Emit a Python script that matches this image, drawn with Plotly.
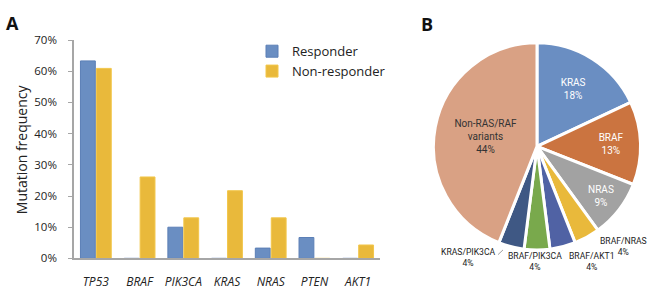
import plotly.graph_objects as go

genes = ["TP53", "BRAF", "PIK3CA", "KRAS", "NRAS", "PTEN", "AKT1"]
responder = [0.633, 0.0, 0.100, 0.0, 0.033, 0.067, 0.0]
non_responder = [0.609, 0.261, 0.130, 0.217, 0.130, 0.0, 0.043]
y_ticks = [0, 0.1, 0.2, 0.3, 0.4, 0.5, 0.6, 0.7]

pie_labels = ["KRAS", "BRAF", "NRAS", "BRAF/NRAS", "BRAF/AKT1", "BRAF/PIK3CA",
              "KRAS/PIK3CA", "Non-RAS/RAF<br>variants"]
pie_values = [18, 13, 9, 4, 4, 4, 4, 44]
pie_colors = ["#6A8EC2", "#CB7440", "#A2A2A2", "#E9B93B", "#5062A4", "#79A94C",
              "#3F5884", "#D9A184"]

W, H = 650, 290
FONT = "Open Sans"
PIE_FONT = "Roboto"

fig = go.Figure()
fig.add_trace(go.Bar(
    x=genes, y=responder, name="Responder",
    marker=dict(color="#6A8EC2", line=dict(color="#5B7FB6", width=1)),
))
fig.add_trace(go.Bar(
    x=genes, y=non_responder, name="Non-responder",
    marker=dict(color="#E9B93B", line=dict(color="#F2C64A", width=1)),
))

pie_textpos = ["inside", "inside", "inside", "none", "none", "none", "none", "inside"]
pie_textcolor = ["white", "white", "white", "white", "white", "white", "white", "#333333"]
fig.add_trace(go.Pie(
    labels=pie_labels, values=pie_values, sort=False, direction="clockwise",
    rotation=0,
    marker=dict(colors=pie_colors, line=dict(color="white", width=3)),
    texttemplate="%{label}<br>%{value}%",
    textposition=pie_textpos,
    insidetextorientation="horizontal",
    textfont=dict(family=PIE_FONT, size=10, color=pie_textcolor),
    domain=dict(x=[427 / W, 647 / W], y=[33 / H, 253 / H]),
    showlegend=False, hoverinfo="label+percent",
))

fig.update_layout(
    width=W, height=H,
    margin=dict(l=0, r=0, t=0, b=0),
    paper_bgcolor="white", plot_bgcolor="white",
    font=dict(family=FONT, size=12, color="#222222"),
    barmode="group", bargap=0.27, bargroupgap=0.07,
    xaxis=dict(
        domain=[74 / W, 380 / W],
        tickmode="array", tickvals=genes,
        ticktext=[f"<i>{g}</i>" for g in genes],
        showline=True, linecolor="#A6A6A6", linewidth=1.5,
        ticks="", showgrid=False, ticklabelstandoff=11,
        tickfont=dict(size=12, color="#222222"),
    ),
    yaxis=dict(
        domain=[24 / H, 256 / H], range=[0, 0.7],
        tickvals=y_ticks, tickformat=".0%",
        showline=True, linecolor="#A6A6A6", linewidth=1.5,
        ticks="outside", ticklen=4, tickcolor="#A6A6A6",
        ticklabelstandoff=9,
        showgrid=False, zeroline=False,
        tickfont=dict(size=11.5, color="#222222"),
    ),
    legend=dict(
        x=252 / W, y=1 - 30 / H, xanchor="left", yanchor="top",
        font=dict(size=13, color="#222222"), bgcolor="rgba(0,0,0,0)",
        itemwidth=30, tracegroupgap=2,
    ),
)

lab_font = dict(family=PIE_FONT, size=8.6, color="#222222")
ann = [
    dict(text="<b>A</b>", x=4 / W, y=1 - 1 / H, xanchor="left", yanchor="top", font=dict(size=18, color="#111111")),
    dict(text="<b>B</b>", x=419 / W, y=1 - 2 / H, xanchor="left", yanchor="top", font=dict(size=18, color="#111111")),
    dict(text="Mutation frequency", x=21 / W, y=1 - 150 / H, xanchor="center", yanchor="middle",
         textangle=-90, font=dict(size=14, color="#222222")),
    dict(text="KRAS/PIK3CA<br>4%", x=468 / W, y=1 - 265 / H, xanchor="center", yanchor="middle", font=lab_font),
    dict(text="BRAF/PIK3CA<br>4%", x=535 / W, y=1 - 269 / H, xanchor="center", yanchor="middle", font=lab_font),
    dict(text="BRAF/AKT1<br>4%", x=592 / W, y=1 - 269 / H, xanchor="center", yanchor="middle", font=lab_font),
    dict(text="BRAF/NRAS<br>4%", x=623 / W, y=1 - 253 / H, xanchor="center", yanchor="middle", font=lab_font),
]
for a in ann:
    a.update(xref="paper", yref="paper", showarrow=False)
    fig.add_annotation(**a)
fig.add_shape(type="line", xref="paper", yref="paper",
              x0=498 / W, y0=1 - 262 / H, x1=503 / W, y1=1 - 257 / H,
              line=dict(color="#888888", width=0.8))

fig.write_html("out.html", config={"displayModeBar": False},
               post_script="document.body.style.margin='0';")
